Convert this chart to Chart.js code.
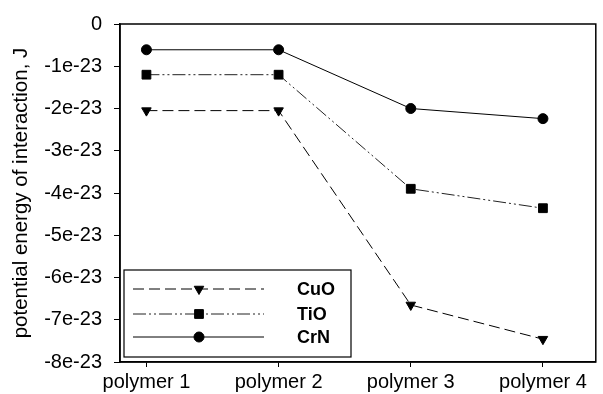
<!DOCTYPE html>
<html>
<head>
<meta charset="utf-8">
<script src="https://cdn.jsdelivr.net/npm/chart.js@4"></script>
<style>
  html, body { margin: 0; padding: 0; background: #fff; }
  canvas { display: block; }
</style>
</head>
<body>
<canvas id="myCanvas" width="603" height="394"></canvas>
<script>
// categories and series (J)
var polymers = ['polymer 1', 'polymer 2', 'polymer 3', 'polymer 4'];
var cuO = [-2.05e-23, -2.05e-23, -6.65e-23, -7.46e-23];
var tiO = [-1.2e-23, -1.2e-23, -3.9e-23, -4.36e-23];
var crN = [-0.61e-23, -0.61e-23, -2.0e-23, -2.24e-23];

var yTickValues = [0, -1e-23, -2e-23, -3e-23, -4e-23, -5e-23, -6e-23, -7e-23, -8e-23];
var yTickLabels = ['0', '-1e-23', '-2e-23', '-3e-23', '-4e-23', '-5e-23', '-6e-23', '-7e-23', '-8e-23'];

Chart.defaults.font.family = '"Liberation Sans", Arial, sans-serif';
Chart.defaults.color = '#000';

function toPoints(arr) {
    return arr.map(function (v, i) { return { x: i + 1, y: v } });
}

// box around the plot area
var framePlugin = {
    id: 'frame',
    afterDraw: function (chart) {
        var a = chart.chartArea;
        var ctx = chart.ctx;
        ctx.save();
        ctx.strokeStyle = '#000';
        ctx.lineWidth = 1.5;
        ctx.strokeRect(a.left, a.top, a.right - a.left, a.bottom - a.top);
        ctx.restore();
    }
};

// legend drawn inside the plot, lower left
var legendPlugin = {
    id: 'boxLegend',
    afterDraw: function (chart) {
        var a = chart.chartArea;
        var ctx = chart.ctx;
        var bx = a.left + 4, by = 270, bw = 227, bh = 87;
        ctx.save();
        ctx.fillStyle = '#fff';
        ctx.fillRect(bx, by, bw, bh);
        ctx.strokeStyle = '#000';
        ctx.lineWidth = 1.2;
        ctx.strokeRect(bx, by, bw, bh);
        var rows = [289, 314, 337];
        chart.data.datasets.forEach(function (ds, i) {
            var y = rows[i];
            ctx.strokeStyle = ds.borderColor;
            ctx.lineWidth = ds.borderWidth;
            ctx.setLineDash(ds.borderDash || []);
            ctx.beginPath();
            ctx.moveTo(bx + 9, y);
            ctx.lineTo(bx + 140, y);
            ctx.stroke();
            ctx.setLineDash([]);
            ctx.fillStyle = '#000';
            ctx.strokeStyle = '#000';
            Chart.helpers.drawPoint(ctx, {
                pointStyle: ds.pointStyle,
                rotation: ds.pointRotation || 0,
                radius: ds.pointRadius,
                borderWidth: 1
            }, bx + 75, y);
            ctx.font = 'bold 18px "Liberation Sans", Arial, sans-serif';
            ctx.textBaseline = 'middle';
            ctx.fillText(ds.label, bx + 173, y + 1);
        });
        ctx.restore();
    }
};

var ctx = document.getElementById('myCanvas').getContext('2d');
var myChart = new Chart(ctx, {
    type: 'line',
    data: {
        datasets: [{
            label: 'CuO',
            data: toPoints(cuO),
            borderColor: '#000',
            backgroundColor: '#000',
            borderWidth: 1,
            borderDash: [11, 5],
            pointStyle: 'triangle',
            pointRotation: 180,
            pointRadius: 5.5
        }, {
            label: 'TiO',
            data: toPoints(tiO),
            borderColor: '#222',
            backgroundColor: '#000',
            pointBorderColor: '#000',
            borderWidth: 1,
            borderDash: [13, 3, 2, 3, 2, 3],
            pointStyle: 'rect',
            pointRadius: 6.2
        }, {
            label: 'CrN',
            data: toPoints(crN),
            borderColor: '#000',
            backgroundColor: '#000',
            borderWidth: 1,
            pointStyle: 'circle',
            pointRadius: 5
        }]
    },
    options: {
        responsive: false,
        animation: false,
        devicePixelRatio: 1,
        layout: { padding: { top: 24, right: 1, left: 0, bottom: 0 } },
        plugins: {
            legend: { display: false },
            tooltip: { enabled: false }
        },
        scales: {
            x: {
                type: 'linear',
                min: 0.8,
                max: 4.4,
                afterBuildTicks: function (scale) {
                    scale.ticks = polymers.map(function (p, i) { return { value: i + 1 } });
                },
                afterFit: function (scale) { scale.height = 32; },
                grid: { drawOnChartArea: false, tickLength: 5, color: '#000' },
                border: { color: '#000', width: 1.5 },
                ticks: {
                    padding: 3,
                    maxRotation: 0,
                    font: { size: 20 },
                    callback: function (v) { return polymers[Math.round(v) - 1]; }
                }
            },
            y: {
                min: -8e-23,
                max: 0,
                afterBuildTicks: function (scale) {
                    scale.ticks = yTickValues.map(function (v) { return { value: v } });
                },
                afterFit: function (scale) { scale.width = 120; },
                grid: { drawOnChartArea: false, tickLength: 6, color: '#000' },
                border: { color: '#000', width: 1.5 },
                ticks: {
                    padding: 12,
                    font: { size: 20 },
                    callback: function (v, i) { return yTickLabels[i]; }
                },
                title: {
                    display: true,
                    text: 'potential energy of interaction, J',
                    font: { size: 20.5 },
                    padding: { top: 9, bottom: 0 }
                }
            }
        }
    },
    plugins: [framePlugin, legendPlugin]
});
</script>
</body>
</html>
